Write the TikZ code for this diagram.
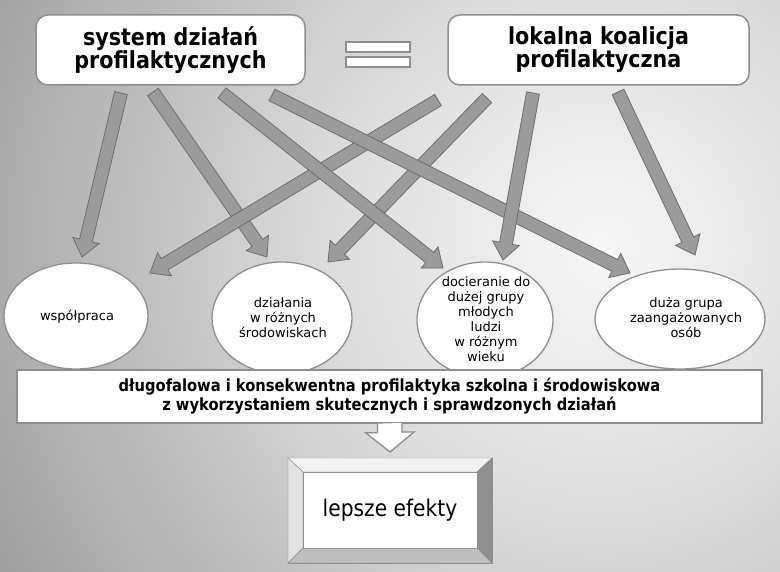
\documentclass[tikz,border=0pt]{standalone}
\usepackage{fontspec}
\setmainfont{DejaVu Sans}
\newfontfamily\tahoma[FakeStretch=0.88]{DejaVu Sans}
\usetikzlibrary{shapes.geometric,calc}

\definecolor{boxline}{HTML}{8E8E8E}
\definecolor{arrfill}{HTML}{9B9B9B}
\definecolor{arrline}{HTML}{6E6E6E}
\definecolor{bgin}{HTML}{F7F7F7}
\definecolor{bgmid}{HTML}{DBDBDB}
\definecolor{bgout}{HTML}{9C9C9C}
\definecolor{bvtop}{HTML}{F2F2F2}
\definecolor{bvleft}{HTML}{E2E2E2}
\definecolor{bvright}{HTML}{8F8F8F}
\definecolor{bvbottom}{HTML}{BEBEBE}

\pgfdeclareradialshading{bgglow}{\pgfpoint{0bp}{0bp}}{color(0bp)=(bgin); color(10bp)=(bgmid); color(25bp)=(bgout); color(50bp)=(bgout)}

\tikzset{
	topbox/.style = {draw=boxline, line width=1.5pt, fill=white, rounded corners=12pt, minimum height=70pt, inner sep=0pt, align=center, font=\tahoma\bfseries\fontsize{23.5}{23}\selectfont},
	el/.style = {ellipse, draw=boxline, line width=1.3pt, fill=white, inner sep=0pt, outer sep=0pt},
	eltext/.style = {align=center, inner sep=0pt, font=\fontsize{13}{15}\selectfont},
	longbox/.style = {draw=boxline, line width=1.3pt, fill=white, minimum width=745pt, minimum height=53pt, inner sep=0pt, align=center, font=\tahoma\bfseries\fontsize{16.7}{19}\selectfont},
	blockarr/.style = {fill=arrfill, draw=arrline, line width=0.8pt, line join=miter},
	hollowarr/.style = {fill=white, draw=boxline, line width=1.3pt},
	bar/.style = {fill=white, draw=boxline, line width=1.8pt},
	bevelout/.style = {draw=boxline, line width=1pt, minimum width=204pt, minimum height=105pt, inner sep=0pt, outer sep=0pt},
	bevelin/.style = {draw=boxline, line width=1pt, fill=white, minimum width=174pt, minimum height=76pt, inner sep=0pt, outer sep=0pt, font=\tahoma\fontsize{23}{23}\selectfont}
}

% thick gray arrow from #1 to the tip #2
\newcommand\blockarrow[2]{%
	\coordinate (ba-h) at ($(#2)!17pt!(#1)$);
	\draw[blockarr] ($(#1)!6.5pt!90:(#2)$) -- ($(ba-h)!6.5pt!90:(#2)$) -- ($(ba-h)!13.5pt!90:(#2)$) -- (#2)
		-- ($(ba-h)!13.5pt!-90:(#2)$) -- ($(ba-h)!6.5pt!-90:(#2)$) -- ($(#1)!6.5pt!-90:(#2)$) -- cycle;
}

\begin{document}
\begin{tikzpicture}[x=1pt,y=-1pt]
	% background
	\begin{scope}
		\clip (0,0) rectangle (780,572);
		\shade[shading=bgglow] (600,250) circle[radius=700pt];
	\end{scope}
	\useasboundingbox (0,0) rectangle (780,572);

	% ellipses
	\node[el, minimum width=144pt, minimum height=106pt] (wsp) at (76,316) {};
	\node[el, minimum width=140pt, minimum height=112pt] (dzi) at (282,318) {};
	\node[el, minimum width=136pt, minimum height=116pt] (doc) at (485,320) {};
	\node[el, minimum width=170pt, minimum height=100pt] (duz) at (680,319) {};
	\node[eltext] (wsp-t) at (77,317) {współpraca};
	\node[eltext] (dzi-t) at (283,318) {działania\\w różnych\\środowiskach};
	\node[eltext] (doc-t) at (486,319) {docieranie do\\dużej grupy\\młodych\\ludzi\\w różnym\\wieku};
	\node[eltext] (duz-t) at (686,318) {duża grupa\\zaangażowanych\\osób};

	% long box
	\node[longbox] (lang) at (389.5,396.5) {długofalowa i konsekwentna profilaktyka szkolna i środowiskowa\\z wykorzystaniem skutecznych i sprawdzonych działań};

	% hollow arrow down
	\coordinate (dn-tip) at (390,452);
	\draw[hollowarr] ([xshift=-12pt]lang.south) -- ++(0,9) -- ++(-12,0) -- (dn-tip) -- ++(24,-20) -- ++(-12,0) -- ++(0,-9);

	% bevel box
	\node[bevelout] (efb) at (390,510.5) {};
	\node[bevelin] (ef) at (390,510) {};
	\filldraw[fill=bvtop, draw=boxline] (efb.north west) -- (efb.north east) -- (ef.north east) -- (ef.north west) -- cycle;
	\filldraw[fill=bvleft, draw=boxline] (efb.north west) -- (ef.north west) -- (ef.south west) -- (efb.south west) -- cycle;
	\filldraw[fill=bvright, draw=boxline] (efb.north east) -- (ef.north east) -- (ef.south east) -- (efb.south east) -- cycle;
	\filldraw[fill=bvbottom, draw=boxline] (efb.south west) -- (ef.south west) -- (ef.south east) -- (efb.south east) -- cycle;
	\node[bevelin] (ef) at (390,510) {lepsze efekty};

	% arrow ends
	\coordinate (s1) at (121,93);
	\coordinate (s2) at (153,92);
	\coordinate (s3) at (222,93);
	\coordinate (s4) at (272,95);
	\coordinate (k1) at (438,100);
	\coordinate (k2) at (487,98);
	\coordinate (k3) at (533,93);
	\coordinate (k4) at (618,92);
	\coordinate (wsp-a) at (82,257);
	\coordinate (dzi-a) at (267,257);
	\coordinate (doc-a) at (443,268);
	\coordinate (duz-a) at (630,273);
	\coordinate (wsp-b) at (150,273);
	\coordinate (dzi-b) at (328,262);
	\coordinate (doc-b) at (503,260);
	\coordinate (duz-b) at (695,255);

	% arrows
	\blockarrow{s1}{wsp-a}
	\blockarrow{s2}{dzi-a}
	\blockarrow{k1}{wsp-b}
	\blockarrow{k2}{dzi-b}
	\blockarrow{s3}{doc-a}
	\blockarrow{s4}{duz-a}
	\blockarrow{k3}{doc-b}
	\blockarrow{k4}{duz-b}

	% top boxes
	\node[topbox, minimum width=269pt] (sys) at (170.5,50) {system działań\\profilaktycznych};
	\node[topbox, minimum width=301pt] (koal) at (598.5,50) {lokalna koalicja\\profilaktyczna};
	\draw[bar] (346,42) rectangle (410,52);
	\draw[bar] (346,57) rectangle (410,67);
\end{tikzpicture}
\end{document}
